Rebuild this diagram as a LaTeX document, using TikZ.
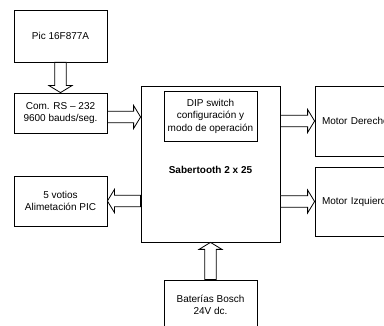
\documentclass[tikz,border=0pt]{standalone}
\usepackage{fontspec}
\setmainfont{Liberation Sans}
\usetikzlibrary{calc}
\tikzset{
  box/.style={draw=black, line width=0.8pt, fill=white, align=center, inner sep=0pt,
    font=\fontsize{10}{12.5}\selectfont},
  lbl/.style={inner sep=0pt, align=center, font=\fontsize{10}{12.5}\selectfont},
  blk/.style={draw=black, line width=0.8pt, fill=white, line join=miter}
}
\newcommand{\sw}{5.75pt}
\newcommand{\hw}{11.5pt}
\newcommand{\hl}{7pt}
\newcommand{\harrow}[2]{%
  \draw[blk] let \p1=(#1), \p2=(#2), \n1={sign(\x2-\x1)} in
    (\x1,\y1+\sw) -- (\x2-\n1*\hl,\y1+\sw) -- (\x2-\n1*\hl,\y1+\hw) -- (\x2,\y1)
    -- (\x2-\n1*\hl,\y1-\hw) -- (\x2-\n1*\hl,\y1-\sw) -- (\x1,\y1-\sw) -- cycle;}
\newcommand{\varrow}[2]{%
  \draw[blk] let \p1=(#1), \p2=(#2), \n1={sign(\y2-\y1)} in
    (\x1+\sw,\y1) -- (\x1+\sw,\y2-\n1*\hl) -- (\x1+\hw,\y2-\n1*\hl) -- (\x1,\y2)
    -- (\x1-\hw,\y2-\n1*\hl) -- (\x1-\sw,\y2-\n1*\hl) -- (\x1-\sw,\y1) -- cycle;}
\begin{document}
\begin{tikzpicture}[x=1pt, y=-1pt]
  \useasboundingbox (0,0) rectangle (384,326);
  \clip (0,0) rectangle (384,326);
  \fill[white] (0,0) rectangle (384,326);

  \node[box, minimum width=93pt, minimum height=52pt] (pic) at (60.5,36) {Pic 16F877A};
  \node[box, minimum width=93pt, minimum height=40pt] (com) at (60.5,113)
    {Com. RS -- 232\\9600 bauds/seg.};
  \node[box, minimum width=93pt, minimum height=50pt] (volt) at (60.5,201)
    {5 votios\\Alimetación PIC};
  \node[box, minimum width=139pt, minimum height=156pt] (sab) at (210.5,164) {};
  \node[box, minimum width=93pt, minimum height=50pt] (dip) at (210.5,116)
    {DIP switch\\configuración y\\modo de operación};
  \node[lbl, font=\fontsize{10}{12.5}\selectfont\bfseries] (sablbl) at (210.5,170) {Sabertooth 2 x 25};
  \node[box, align=left, text width=86pt, inner xsep=7pt, minimum height=70pt] (motd) at (365,121)
    {Motor Derecho};
  \node[box, align=left, text width=86pt, inner xsep=7pt, minimum height=69pt] (moti) at (365,201.5)
    {Motor Izquierdo};
  \node[box, minimum width=93pt, minimum height=50pt] (bat) at (210.5,305)
    {Baterías Bosch\\24V dc.};

  \varrow{pic.south}{com.north}
  \coordinate (a2s) at ([yshift=-4pt]com.east);
  \coordinate (a2e) at (sab.west |- a2s);
  \harrow{a2s}{a2e}
  \coordinate (a3s) at (sab.east |- motd.west);
  \harrow{a3s}{motd.west}
  \coordinate (a4s) at (sab.east |- moti.west);
  \harrow{a4s}{moti.west}
  \coordinate (a5s) at (sab.west |- volt.east);
  \harrow{a5s}{volt.east}
  \coordinate (a6e) at (bat.north |- sab.south);
  \varrow{bat.north}{a6e}
\end{tikzpicture}
\end{document}
